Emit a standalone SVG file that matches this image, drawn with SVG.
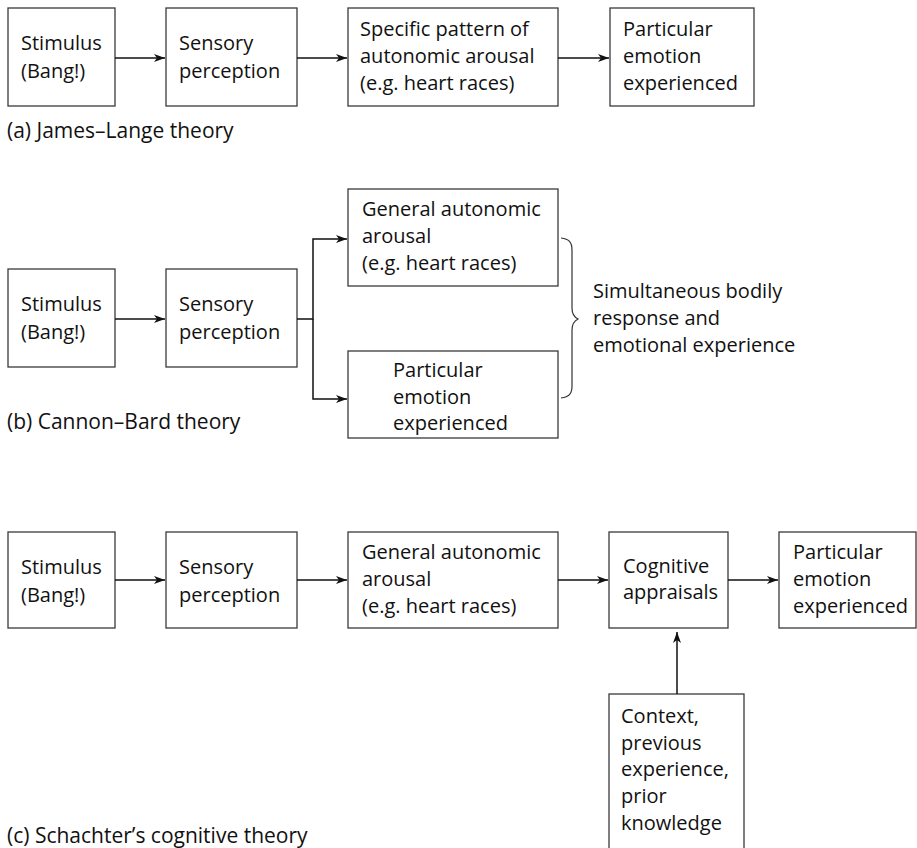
<svg xmlns="http://www.w3.org/2000/svg" width="917" height="848" viewBox="0 0 917 848">
<style>
  .box { fill: #fff; stroke: #3a3a3a; stroke-width: 1.3; }
  .t { font-family: "Open Sans", "DejaVu Sans", sans-serif; font-size: 20px; fill: #111; }
  .cap { font-size: 21px; }
  .conn { fill: none; stroke: #111; stroke-width: 1.5; }
  .brace { fill: none; stroke: #333; stroke-width: 1.2; }
</style>
<defs>
  <marker id="ah" markerUnits="userSpaceOnUse" markerWidth="12" markerHeight="8" refX="11" refY="4" orient="auto">
    <path d="M0,0 L11,4 L0,8 L3,4 z" fill="#111"/>
  </marker>
</defs>
<rect width="917" height="848" fill="#fff"/>

<!-- (a) James-Lange -->
<g id="a-stimulus"><rect class="box" x="8" y="8" width="107" height="98"/>
  <text class="t" x="21" y="50">Stimulus</text><text class="t" x="21" y="78">(Bang!)</text></g>
<g id="a-sensory"><rect class="box" x="166" y="8" width="131" height="98"/>
  <text class="t" x="179" y="50">Sensory</text><text class="t" x="179" y="78">perception</text></g>
<g id="a-arousal"><rect class="box" x="348" y="8" width="210" height="98"/>
  <text class="t" x="360" y="36">Specific pattern of</text><text class="t" x="360" y="63">autonomic arousal</text><text class="t" x="360" y="90">(e.g. heart races)</text></g>
<g id="a-emotion"><rect class="box" x="610" y="8" width="144" height="98"/>
  <text class="t" x="623" y="36">Particular</text><text class="t" x="623" y="63">emotion</text><text class="t" x="623" y="90">experienced</text></g>
<text class="t cap" x="7" y="138">(a) James–Lange theory</text>

<!-- (b) Cannon-Bard -->
<g id="b-stimulus"><rect class="box" x="8" y="269" width="107" height="98"/>
  <text class="t" x="21" y="311">Stimulus</text><text class="t" x="21" y="339">(Bang!)</text></g>
<g id="b-sensory"><rect class="box" x="166" y="269" width="131" height="98"/>
  <text class="t" x="179" y="311">Sensory</text><text class="t" x="179" y="339">perception</text></g>
<g id="b-arousal"><rect class="box" x="348" y="189" width="210" height="97"/>
  <text class="t" x="362" y="216">General autonomic</text><text class="t" x="362" y="243">arousal</text><text class="t" x="362" y="270">(e.g. heart races)</text></g>
<g id="b-emotion"><rect class="box" x="348" y="351" width="210" height="87"/>
  <text class="t" x="393" y="377">Particular</text><text class="t" x="393" y="404">emotion</text><text class="t" x="393" y="430">experienced</text></g>
<g id="b-note">
  <path class="brace" d="M561,238 C569,239 572,242 572,250 L572,308 C572,314 574,317 578,319 C574,321 572,324 572,330 L572,386 C572,394 569,397 561,398"/>
  <text class="t" x="593" y="298">Simultaneous bodily</text><text class="t" x="593" y="325">response and</text><text class="t" x="593" y="352">emotional experience</text>
</g>
<text class="t cap" x="7" y="429">(b) Cannon–Bard theory</text>

<!-- (c) Schachter -->
<g id="c-stimulus"><rect class="box" x="8" y="532" width="107" height="96"/>
  <text class="t" x="21" y="574">Stimulus</text><text class="t" x="21" y="602">(Bang!)</text></g>
<g id="c-sensory"><rect class="box" x="166" y="532" width="131" height="96"/>
  <text class="t" x="179" y="574">Sensory</text><text class="t" x="179" y="602">perception</text></g>
<g id="c-arousal"><rect class="box" x="348" y="532" width="210" height="96"/>
  <text class="t" x="362" y="559">General autonomic</text><text class="t" x="362" y="586">arousal</text><text class="t" x="362" y="613">(e.g. heart races)</text></g>
<g id="c-appraisal"><rect class="box" x="609" y="532" width="119" height="96"/>
  <text class="t" x="623" y="573">Cognitive</text><text class="t" x="623" y="599">appraisals</text></g>
<g id="c-emotion"><rect class="box" x="779" y="532" width="137" height="96"/>
  <text class="t" x="793" y="559">Particular</text><text class="t" x="793" y="586">emotion</text><text class="t" x="793" y="613">experienced</text></g>
<g id="c-context"><rect class="box" x="609" y="694" width="135" height="170"/>
  <text class="t" x="621" y="723">Context,</text><text class="t" x="621" y="750">previous</text><text class="t" x="621" y="776">experience,</text><text class="t" x="621" y="803">prior</text><text class="t" x="621" y="830">knowledge</text></g>
<text class="t cap" x="7" y="843">(c) Schachter’s cognitive theory</text>

<g id="connectors">
  <line class="conn" x1="115" y1="58" x2="165" y2="58" marker-end="url(#ah)"/>
  <line class="conn" x1="297" y1="58" x2="347" y2="58" marker-end="url(#ah)"/>
  <line class="conn" x1="558" y1="58" x2="609" y2="58" marker-end="url(#ah)"/>

  <line class="conn" x1="115" y1="319" x2="165" y2="319" marker-end="url(#ah)"/>
  <path class="conn" d="M297,319 H313 V239 H347" marker-end="url(#ah)"/>
  <path class="conn" d="M313,319 V399 H347" marker-end="url(#ah)"/>

  <line class="conn" x1="115" y1="580" x2="165" y2="580" marker-end="url(#ah)"/>
  <line class="conn" x1="297" y1="580" x2="347" y2="580" marker-end="url(#ah)"/>
  <line class="conn" x1="558" y1="580" x2="608" y2="580" marker-end="url(#ah)"/>
  <line class="conn" x1="728" y1="580" x2="778" y2="580" marker-end="url(#ah)"/>
  <line class="conn" x1="677" y1="694" x2="677" y2="632" marker-end="url(#ah)"/>
</g>
</svg>
